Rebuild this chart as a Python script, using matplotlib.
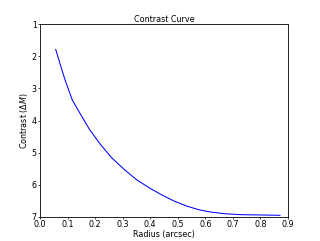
import matplotlib
matplotlib.use('Agg')
import matplotlib.pyplot as plt

# Curva de contraste
radius = [0.057, 0.074, 0.091, 0.117, 0.15, 0.179, 0.218, 0.26, 0.308, 0.35,
          0.399, 0.445, 0.49, 0.535, 0.578, 0.62, 0.67, 0.726, 0.80, 0.871]
contrast = [1.79, 2.27, 2.74, 3.36, 3.85, 4.27, 4.73, 5.16, 5.54, 5.84,
            6.11, 6.33, 6.52, 6.67, 6.78, 6.85, 6.90, 6.93, 6.94, 6.95]

fig = plt.figure(figsize=(6.4, 4.82), dpi=50)
ax = fig.add_axes([0.125, 0.1, 0.775, 0.8])
ax.plot(radius, contrast, color='blue', linewidth=1.5)

ax.set_xlim(0.0, 0.9)
ax.set_ylim(7, 1)
ax.set_xticks([0.0, 0.1, 0.2, 0.3, 0.4, 0.5, 0.6, 0.7, 0.8, 0.9])
ax.set_yticks([1, 2, 3, 4, 5, 6, 7])
ax.tick_params(labelsize=11.5, length=3, width=1, pad=1.5)
ax.set_xlabel('Radius (arcsec)', fontsize=11.5, labelpad=1)
ax.set_ylabel(r'Contrast ($\Delta M$)', fontsize=11.5, labelpad=3)
ax.set_title('Contrast Curve', fontsize=11.5, pad=3)
for s in ax.spines.values():
    s.set_linewidth(1.2)

fig.savefig('out.png', dpi=50)
